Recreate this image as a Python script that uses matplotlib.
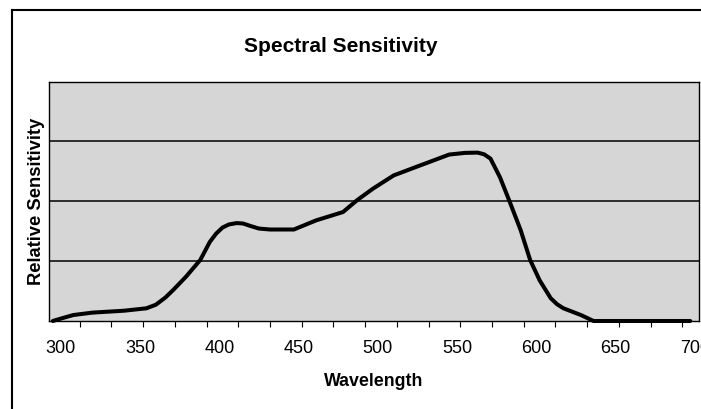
import numpy as np
import matplotlib
matplotlib.use("Agg")
import matplotlib.pyplot as plt
from matplotlib.lines import Line2D

plt.rcParams['font.family'] = ['Liberation Sans', 'DejaVu Sans']

# (grid lines at 25 / 50 / 75)
wavelength = [295, 300, 308, 320, 340, 354, 360, 366, 371, 379, 388, 394, 398, 402, 406,
              411, 415, 420, 425, 432, 447, 461, 478, 487, 497, 510, 524, 545, 555, 563,
              567, 571, 577, 583, 590, 596, 602, 609, 613, 617, 628, 636, 697]
sensitivity = [0, 1, 2.5, 3.5, 4.3, 5.3, 6.8, 9.8, 13, 18.5, 25.5, 33, 36.5, 39, 40.3,
               40.9, 40.7, 39.6, 38.6, 38.2, 38.2, 42, 45.5, 50.5, 55.3, 60.8, 64.3, 69.5, 70.2, 70.3,
               69.6, 67.8, 60, 50, 38, 25.5, 17, 9.5, 7, 5.3, 2.5, 0, 0]
tick_labels = [300, 350, 400, 450, 500, 550, 600, 650, 700]
grid_levels = [25, 50, 75]

fig = plt.figure(figsize=(7.01, 4.09), dpi=100)
W, H = 701, 409
ax = fig.add_axes([49 / W, (H - 321) / H, 650 / W, 239.5 / H])
ax.set_facecolor('#d6d6d6')

for g in grid_levels:
    ax.axhline(g, color='black', lw=1.1, zorder=1)

ax.plot(wavelength, sensitivity, color='black', lw=2.9, solid_joinstyle='round',
        solid_capstyle='round', zorder=3, clip_on=False)

ax.set_xlim(292.6, 702.5)
ax.set_ylim(0, 100)
ax.set_yticks([])
ax.set_xticks(tick_labels)
ax.set_xticklabels([str(t) for t in tick_labels])
ax.set_xticks(np.arange(312, 700, 20), minor=True)
ax.tick_params(axis='x', which='major', length=0, pad=14, labelsize=13)
ax.tick_params(axis='x', which='minor', length=4, width=0.8, direction='out')
for s in ax.spines.values():
    s.set_linewidth(1.0)
    s.set_color('black')

ax.set_xlabel('Wavelength', fontsize=12.8, fontweight='bold', labelpad=11)
ax.set_ylabel('Relative Sensitivity', fontsize=13.2, fontweight='bold', labelpad=3)
fig.text(341 / W, 1 - 47 / H, 'Spectral Sensitivity', ha='center', va='center',
         fontsize=15, fontweight='bold')

# outer chart border (top and left edges visible in the scan)
fig.add_artist(Line2D([12 / W, 12 / W], [0, 1 - 10 / H], transform=fig.transFigure,
                      color='black', lw=1.5))
fig.add_artist(Line2D([12 / W, 1], [1 - 10 / H, 1 - 10 / H], transform=fig.transFigure,
                      color='black', lw=1.5))

fig.savefig('out.png', dpi=100, facecolor='white')
